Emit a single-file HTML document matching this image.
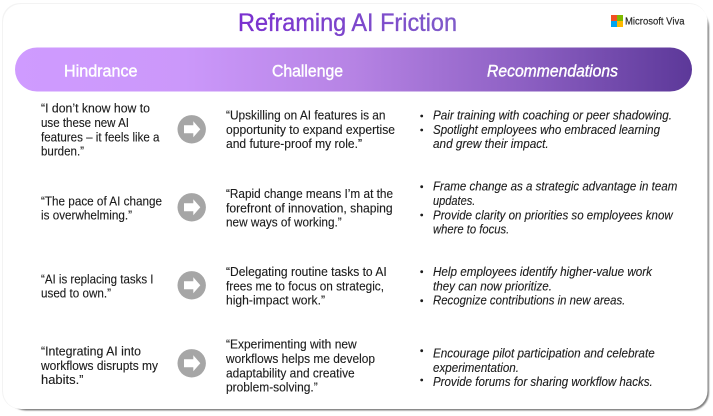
<!DOCTYPE html>
<html lang="en">
<head>
<meta charset="utf-8">
<title>Reframing AI Friction</title>
<style>
html,body{margin:0;padding:0;width:713px;height:416px;background:#fff;overflow:hidden}
svg{display:block;position:absolute;left:0;top:0}
text{font-family:"Liberation Sans",sans-serif}
.t{font-size:12.5px;fill:#1c1c1c;stroke:#1c1c1c;stroke-width:.12px}
.r{font-size:12.5px;fill:#1c1c1c;font-style:italic;stroke:#1c1c1c;stroke-width:.12px}
.h{font-size:16.5px;fill:#fff;stroke:#fff;stroke-width:.4px}
</style>
</head>
<body>
<svg width="713" height="416" viewBox="0 0 713 416" xmlns="http://www.w3.org/2000/svg">
<defs>
<linearGradient id="band" x1="0" x2="1" y1="0" y2="0">
<stop offset="0" stop-color="#cf9bff"/>
<stop offset="0.25" stop-color="#cb98fa"/>
<stop offset="0.5" stop-color="#b683e4"/>
<stop offset="0.75" stop-color="#8d60c3"/>
<stop offset="1" stop-color="#5c3899"/>
</linearGradient>
<linearGradient id="title" x1="0" x2="1" y1="0" y2="0">
<stop offset="0" stop-color="#7a30cf"/>
<stop offset="1" stop-color="#7f5bc9"/>
</linearGradient>
<filter id="sh" x="-5%" y="-5%" width="110%" height="110%">
<feGaussianBlur stdDeviation="0.9"/>
</filter>
</defs>

<rect x="2" y="3" width="705" height="406" rx="18" fill="#f3f3f3"/>
<rect x="8" y="9" width="701" height="401.5" rx="18" fill="#7f7f7f" filter="url(#sh)"/>
<rect x="3" y="4" width="704.5" height="405" rx="18" fill="#fff"/>

<text x="238" y="31" font-size="25" fill="url(#title)" stroke="url(#title)" stroke-width=".35" textLength="219" lengthAdjust="spacingAndGlyphs">Reframing AI Friction</text>

<rect x="611" y="15" width="6" height="6" fill="#f25022"/>
<rect x="617" y="15" width="6" height="6" fill="#7fba00"/>
<rect x="611" y="21" width="6" height="6" fill="#00a4ef"/>
<rect x="617" y="21" width="6" height="6" fill="#ffb900"/>
<text x="625" y="24.5" font-size="10.5" fill="#222" stroke="#222" stroke-width=".15" textLength="59.5" lengthAdjust="spacingAndGlyphs">Microsoft Viva</text>

<rect x="15" y="47.5" width="677" height="44" rx="22" fill="url(#band)"/>
<text class="h" x="64" y="76.5" textLength="73.5" lengthAdjust="spacingAndGlyphs">Hindrance</text>
<text class="h" x="272" y="76.5" textLength="71" lengthAdjust="spacingAndGlyphs">Challenge</text>
<text class="h" style="font-style:italic" x="487" y="76.5" textLength="131" lengthAdjust="spacingAndGlyphs">Recommendations</text>

<g fill="#a6a6a6">
<circle cx="191.7" cy="129.3" r="14.2"/>
<circle cx="191.7" cy="207.3" r="14.2"/>
<circle cx="191.7" cy="285.3" r="14.2"/>
<circle cx="191.7" cy="363.3" r="14.2"/>
</g>
<g fill="#fff">
<path d="M184 125.3h9.3v-4l7 8-7 8v-4H184z"/>
<path d="M184 203.3h9.3v-4l7 8-7 8v-4H184z"/>
<path d="M184 281.3h9.3v-4l7 8-7 8v-4H184z"/>
<path d="M184 359.3h9.3v-4l7 8-7 8v-4H184z"/>
</g>

<g class="col1">
<text class="t" x="41" y="112.5" textLength="109" lengthAdjust="spacingAndGlyphs">“I don’t know how to</text>
<text class="t" x="41" y="127" textLength="88" lengthAdjust="spacingAndGlyphs">use these new AI</text>
<text class="t" x="41" y="141.5" textLength="118.5" lengthAdjust="spacingAndGlyphs">features – it feels like a</text>
<text class="t" x="41" y="155.7" textLength="43" lengthAdjust="spacingAndGlyphs">burden.”</text>

<text class="t" x="41" y="205.5" textLength="121" lengthAdjust="spacingAndGlyphs">“The pace of AI change</text>
<text class="t" x="41" y="219.7" textLength="91" lengthAdjust="spacingAndGlyphs">is overwhelming.”</text>

<text class="t" x="41" y="283.5" textLength="112.5" lengthAdjust="spacingAndGlyphs">“AI is replacing tasks I</text>
<text class="t" x="41" y="297.7" textLength="70" lengthAdjust="spacingAndGlyphs">used to own.”</text>

<text class="t" x="41" y="355.3" textLength="100" lengthAdjust="spacingAndGlyphs">“Integrating AI into</text>
<text class="t" x="41" y="369.8" textLength="117" lengthAdjust="spacingAndGlyphs">workflows disrupts my</text>
<text class="t" x="41" y="384" textLength="42.5" lengthAdjust="spacingAndGlyphs">habits.”</text>
</g>

<g class="col2">
<text class="t" x="226" y="119.5" textLength="159.5" lengthAdjust="spacingAndGlyphs">“Upskilling on AI features is an</text>
<text class="t" x="226" y="134" textLength="169" lengthAdjust="spacingAndGlyphs">opportunity to expand expertise</text>
<text class="t" x="226" y="148" textLength="136" lengthAdjust="spacingAndGlyphs">and future-proof my role.”</text>

<text class="t" x="226" y="198" textLength="167" lengthAdjust="spacingAndGlyphs">“Rapid change means I’m at the</text>
<text class="t" x="226" y="212.5" textLength="166.7" lengthAdjust="spacingAndGlyphs">forefront of innovation, shaping</text>
<text class="t" x="226" y="226.7" textLength="115.7" lengthAdjust="spacingAndGlyphs">new ways of working.”</text>

<text class="t" x="226" y="276" textLength="160.7" lengthAdjust="spacingAndGlyphs">“Delegating routine tasks to AI</text>
<text class="t" x="226" y="290.5" textLength="158" lengthAdjust="spacingAndGlyphs">frees me to focus on strategic,</text>
<text class="t" x="226" y="304.5" textLength="99" lengthAdjust="spacingAndGlyphs">high-impact work.”</text>

<text class="t" x="226" y="348.7" textLength="130.7" lengthAdjust="spacingAndGlyphs">“Experimenting with new</text>
<text class="t" x="226" y="363" textLength="149" lengthAdjust="spacingAndGlyphs">workflows helps me develop</text>
<text class="t" x="226" y="377.5" textLength="128.7" lengthAdjust="spacingAndGlyphs">adaptability and creative</text>
<text class="t" x="226" y="391.7" textLength="91.7" lengthAdjust="spacingAndGlyphs">problem-solving.”</text>
</g>

<g fill="#1c1c1c">
<circle cx="421.7" cy="116" r="1.4"/>
<circle cx="421.7" cy="130" r="1.4"/>
<circle cx="421.7" cy="186.7" r="1.4"/>
<circle cx="421.7" cy="215" r="1.4"/>
<circle cx="421.7" cy="271.7" r="1.4"/>
<circle cx="421.7" cy="300.7" r="1.4"/>
<circle cx="421.7" cy="350.7" r="1.4"/>
<circle cx="421.7" cy="380" r="1.4"/>
</g>

<g class="col3">
<text class="r" x="433" y="119.5" textLength="239" lengthAdjust="spacingAndGlyphs">Pair training with coaching or peer shadowing.</text>
<text class="r" x="433" y="134" textLength="227" lengthAdjust="spacingAndGlyphs">Spotlight employees who embraced learning</text>
<text class="r" x="433" y="148" textLength="115.7" lengthAdjust="spacingAndGlyphs">and grew their impact.</text>

<text class="r" x="433" y="190.7" textLength="244.3" lengthAdjust="spacingAndGlyphs">Frame change as a strategic advantage in team</text>
<text class="r" x="433" y="205" textLength="42.3" lengthAdjust="spacingAndGlyphs">updates.</text>
<text class="r" x="433" y="219.3" textLength="239.7" lengthAdjust="spacingAndGlyphs">Provide clarity on priorities so employees know</text>
<text class="r" x="433" y="233.5" textLength="76.3" lengthAdjust="spacingAndGlyphs">where to focus.</text>

<text class="r" x="433" y="276" textLength="219" lengthAdjust="spacingAndGlyphs">Help employees identify higher-value work</text>
<text class="r" x="433" y="290.5" textLength="119" lengthAdjust="spacingAndGlyphs">they can now prioritize.</text>
<text class="r" x="433" y="304.7" textLength="192.3" lengthAdjust="spacingAndGlyphs">Recognize contributions in new areas.</text>

<text class="r" x="433" y="357.3" textLength="221.7" lengthAdjust="spacingAndGlyphs">Encourage pilot participation and celebrate</text>
<text class="r" x="433" y="372" textLength="86" lengthAdjust="spacingAndGlyphs">experimentation.</text>
<text class="r" x="433" y="386" textLength="219.7" lengthAdjust="spacingAndGlyphs">Provide forums for sharing workflow hacks.</text>
</g>
</svg>
</body>
</html>
